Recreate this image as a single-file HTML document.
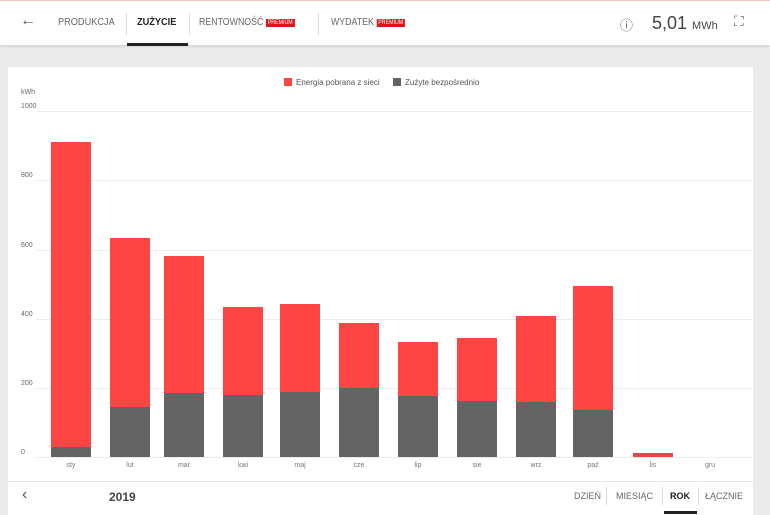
<!DOCTYPE html>
<html><head><meta charset="utf-8"><style>
*{margin:0;padding:0;box-sizing:border-box}
body{width:770px;height:515px;background:#ebebeb;font-family:"Liberation Sans",sans-serif;position:relative;overflow:hidden}
.top{position:absolute;left:0;top:0;width:770px;height:45px;background:#fff;border-top:1px solid #f4c7c7;box-shadow:0 1px 3px rgba(0,0,0,.15)}
.t{position:absolute;font-size:10px;color:#666;top:16px;white-space:nowrap}
.prem{background:#d9161c;color:#fff;font-size:6px;padding:1px 2px;margin-left:3px;vertical-align:1px}
.sep{position:absolute;top:12px;width:1px;height:22px;background:#ddd}
.card{position:absolute;left:8px;top:67px;width:745px;height:448px;background:#fff}
.ax{position:absolute;font-size:7px;color:#666}
.grid{position:absolute;left:36px;width:715px;height:1px;background:#ececec}
.bar{position:absolute;width:40px}
.r{background:#ff4444}.g{background:#646464}
.ml{position:absolute;top:462px;font-size:7px;color:#777;width:40px;text-align:center}
</style></head><body>
<div class="top">
<div class="t" style="left:20px;font-size:16px;top:11px;color:#555">←</div>
<div class="t" style="left:58px;transform:scaleX(.92);transform-origin:left">PRODUKCJA</div>
<div class="sep" style="left:126px"></div>
<div class="t" style="left:137px;color:#222;font-weight:bold;transform:scaleX(.92);transform-origin:left">ZUŻYCIE</div>
<div style="position:absolute;left:127px;top:42px;width:61px;height:3px;background:#222"></div>
<div class="sep" style="left:189px"></div>
<div class="t" style="left:199px;transform:scaleX(.88);transform-origin:left">RENTOWNOŚĆ<span class="prem">PREMIUM</span></div>
<div class="sep" style="left:318px"></div>
<div class="t" style="left:331px;transform:scaleX(.88);transform-origin:left">WYDATEK<span class="prem">PREMIUM</span></div>
<div class="t" style="left:620px;top:14px;font-size:13px">ⓘ</div>
<div class="t" style="left:652px;top:12px;font-size:18px;color:#444">5,01 <span style="font-size:11px">MWh</span></div>
<div class="t" style="left:734px;top:12px;font-size:14px;color:#666">⛶</div>
</div>
<div class="card"></div>
<div style="position:absolute;left:284px;top:78px;width:8px;height:8px;background:#ff4444"></div>
<div class="ax" style="left:296px;top:78px;font-size:8px;color:#555">Energia pobrana z sieci</div>
<div style="position:absolute;left:393px;top:78px;width:8px;height:8px;background:#646464"></div>
<div class="ax" style="left:405px;top:78px;font-size:8px;color:#555">Zużyte bezpośrednio</div>
<div class="ax" style="left:21px;top:89px">kWh</div>
<div class="ax" style="left:21px;top:103px">1000</div><div class="grid" style="top:111px"></div>
<div class="ax" style="left:21px;top:172px">800</div><div class="grid" style="top:180px"></div>
<div class="ax" style="left:21px;top:242px">600</div><div class="grid" style="top:250px"></div>
<div class="ax" style="left:21px;top:311px">400</div><div class="grid" style="top:319px"></div>
<div class="ax" style="left:21px;top:380px">200</div><div class="grid" style="top:388px"></div>
<div class="ax" style="left:21px;top:449px">0</div><div class="grid" style="top:457px"></div>

<div class="bar r" style="left:51px;top:142px;height:305px"></div><div class="bar g" style="left:51px;top:447px;height:10px"></div>
<div class="bar r" style="left:110px;top:238px;height:169px"></div><div class="bar g" style="left:110px;top:407px;height:50px"></div>
<div class="bar r" style="left:164px;top:256px;height:137px"></div><div class="bar g" style="left:164px;top:393px;height:64px"></div>
<div class="bar r" style="left:223px;top:307px;height:88px"></div><div class="bar g" style="left:223px;top:395px;height:62px"></div>
<div class="bar r" style="left:280px;top:304px;height:88px"></div><div class="bar g" style="left:280px;top:392px;height:65px"></div>
<div class="bar r" style="left:339px;top:323px;height:65px"></div><div class="bar g" style="left:339px;top:388px;height:69px"></div>
<div class="bar r" style="left:398px;top:342px;height:54px"></div><div class="bar g" style="left:398px;top:396px;height:61px"></div>
<div class="bar r" style="left:457px;top:338px;height:63px"></div><div class="bar g" style="left:457px;top:401px;height:56px"></div>
<div class="bar r" style="left:516px;top:316px;height:86px"></div><div class="bar g" style="left:516px;top:402px;height:55px"></div>
<div class="bar r" style="left:573px;top:286px;height:124px"></div><div class="bar g" style="left:573px;top:410px;height:47px"></div>
<div class="bar r" style="left:633px;top:453px;height:4px;background:#e04848"></div>

<div class="ml" style="left:51px">sty</div><div class="ml" style="left:110px">lut</div><div class="ml" style="left:164px">mar</div><div class="ml" style="left:223px">kwi</div><div class="ml" style="left:280px">maj</div><div class="ml" style="left:339px">cze</div><div class="ml" style="left:398px">lip</div><div class="ml" style="left:457px">sie</div><div class="ml" style="left:516px">wrz</div><div class="ml" style="left:573px">paź</div><div class="ml" style="left:633px">lis</div><div class="ml" style="left:690px">gru</div>

<div style="position:absolute;left:8px;top:481px;width:745px;height:1px;background:#e6e6e6"></div>
<div class="t" style="left:22px;top:486px;font-size:16px;color:#555">‹</div>
<div class="t" style="left:109px;top:490px;font-size:12px;font-weight:bold;color:#444">2019</div>
<div class="t" style="left:574px;top:491px;font-size:9px">DZIEŃ</div>
<div class="sep" style="left:606px;top:487px;height:18px"></div>
<div class="t" style="left:616px;top:491px;font-size:9px">MIESIĄC</div>
<div class="sep" style="left:662px;top:487px;height:18px"></div>
<div class="t" style="left:670px;top:491px;font-size:9px;font-weight:bold;color:#222">ROK</div>
<div style="position:absolute;left:664px;top:511px;width:33px;height:3px;background:#222"></div>
<div class="sep" style="left:698px;top:487px;height:18px"></div>
<div class="t" style="left:705px;top:491px;font-size:9px">ŁĄCZNIE</div>
</body></html>
